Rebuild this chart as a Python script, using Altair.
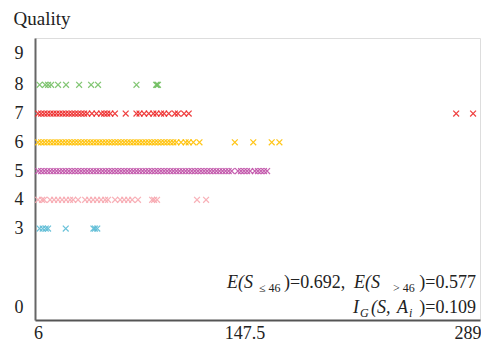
import altair as alt
import pandas as pd

# total sulfur dioxide values per quality
q3 = [7, 9, 11, 12.5, 24, 42, 43, 44.5]
q4 = [6, 8.6, 9.9, 13.8, 16.4, 19, 21.6, 24.2, 26.8, 28.8, 32, 36.6, 39.2, 41.8, 44.4,
      47, 49.6, 51.5, 56.1, 59.4, 62, 64.6, 67.2, 71, 80.2, 81.5, 83.4, 109.4, 115.3]
q5 = [6, 8, 10, 12, 14, 16, 18, 20, 22, 24, 26, 28, 30, 32, 34, 36, 38, 40, 42, 44, 46,
      48, 50, 52, 54, 56, 58, 60, 62, 64, 66, 68, 70, 72, 74, 76, 78, 80, 82, 84, 86, 88,
      90, 92, 94, 96, 98, 100, 102, 104, 106, 108, 110, 112, 114, 116, 118, 120, 122, 124,
      126, 128, 130, 132, 136, 138, 140, 142, 144, 147, 149, 151, 153, 155]
q6 = [6, 8, 10, 12, 14, 16, 18, 20, 22, 24, 26, 28, 30, 32, 34, 36, 38, 40, 42, 44, 46,
      48, 50, 52, 54, 56, 58, 60, 62, 64, 66, 68, 70, 72, 74, 76, 78, 80, 82, 84, 86, 88,
      90, 92, 94, 96, 99, 102, 104, 107, 111, 134, 146, 158, 163]
q7 = [6, 8, 10, 12, 14, 16, 18, 20, 22, 24, 26, 28, 30, 32, 34, 36, 38, 41, 44, 47, 49,
      51, 53, 56, 63, 70, 72, 75, 78, 81, 83, 86, 88, 91, 95, 97, 101, 104, 278, 289]
q8 = [7, 10.6, 12.5, 14.5, 19, 24.2, 32.7, 40.5, 45, 70, 82.8, 83.4, 84]

qualities = [3, 4, 5, 6, 7, 8]
colors = ["#5bbcd6", "#f8a8b0", "#c050a8", "#ffc000", "#ee2a2a", "#74c064"]
series = [q3, q4, q5, q6, q7, q8]

x_ticks = [6, 147.5, 289]
y_ticks = [0, 3, 4, 5, 6, 7, 8, 9]

rows = []
for q, vals in zip(qualities, series):
    for v in vals:
        rows.append({"so2": v, "quality": q})
df = pd.DataFrame(rows)

W, H = 445, 282
OX, OY = 35, 38
SERIF = "Liberation Serif"

points = alt.Chart(df).mark_point(
    shape="M-1,-1L1,1M-1,1L1,-1", filled=False, strokeWidth=1.2, size=34, opacity=0.9
).encode(
    x=alt.X("so2:Q", scale=alt.Scale(domain=[4, 293.5], nice=False, zero=False),
            axis=alt.Axis(values=x_ticks, title=None, ticks=False, grid=False,
                          labelExpr="'' + datum.value",
                          labelAlign=alt.ExprRef(expr="datum.value >= 289 ? 'right' : 'center'"),
                          labelOffset=alt.ExprRef(expr="datum.value >= 289 ? 8 : (datum.value > 100 ? -11 : 0)"),
                          labelFont=SERIF, labelFontSize=18,
                          labelColor="#222", labelPadding=4, domainColor="#555",
                          domainWidth=2)),
    y=alt.Y("quality:Q", scale=alt.Scale(domain=[-0.18, 9.63], nice=False, zero=False),
            axis=alt.Axis(values=y_ticks, title="Quality", ticks=False, grid=False,
                          labelOffset=alt.ExprRef(expr="datum.value == 0 ? -7 : (datum.value == 9 ? -3 : 0)"),
                          labelFont=SERIF, labelFontSize=18, labelColor="#222",
                          labelPadding=12, domainColor="#666", domainWidth=2,
                          titleAngle=0, titleAlign="left", titleBaseline="alphabetic",
                          titleX=-22, titleY=-14, titleFont=SERIF, titleFontSize=19,
                          titleFontWeight="normal", titleColor="#222")),
    color=alt.Color("quality:O", scale=alt.Scale(domain=qualities, range=colors),
                    legend=None),
)

# annotation pieces: (text, x, baseline y, size, italic, align)
pieces = [
    ("E(S", 227, 288, 18, True, "left"),
    ("≤ 46", 259, 292, 12, False, "left"),
    (")=0.692,", 284, 288, 18, False, "left"),
    ("E(S", 354, 288, 18, True, "left"),
    ("> 46", 393, 292, 12, False, "left"),
    (")=0.577", 476, 288, 18, False, "right"),
    ("I", 353, 313, 18, True, "left"),
    ("G", 360, 317, 12, True, "left"),
    ("(S,", 371, 313, 18, True, "left"),
    ("A", 397, 313, 18, True, "left"),
    ("i", 409, 317, 12, True, "left"),
    (")=0.109", 476, 313, 18, False, "right"),
]

layers = [points]
for t, px, py, fs, it, al in pieces:
    layers.append(
        alt.Chart(pd.DataFrame({"t": [t]})).mark_text(
            align=al, baseline="alphabetic", font=SERIF, fontSize=fs,
            fontStyle="italic" if it else "normal", color="#222"
        ).encode(x=alt.value(px - OX), y=alt.value(py - OY), text="t:N")
    )

chart = alt.layer(*layers).properties(
    width=W, height=H,
    autosize=alt.AutoSizeParams(type="none"),
    padding={"left": OX, "top": OY, "right": 1, "bottom": 25},
).configure_view(stroke=None).configure(background="white")

chart.save("out.html", embed_options={"renderer": "svg", "actions": False})
